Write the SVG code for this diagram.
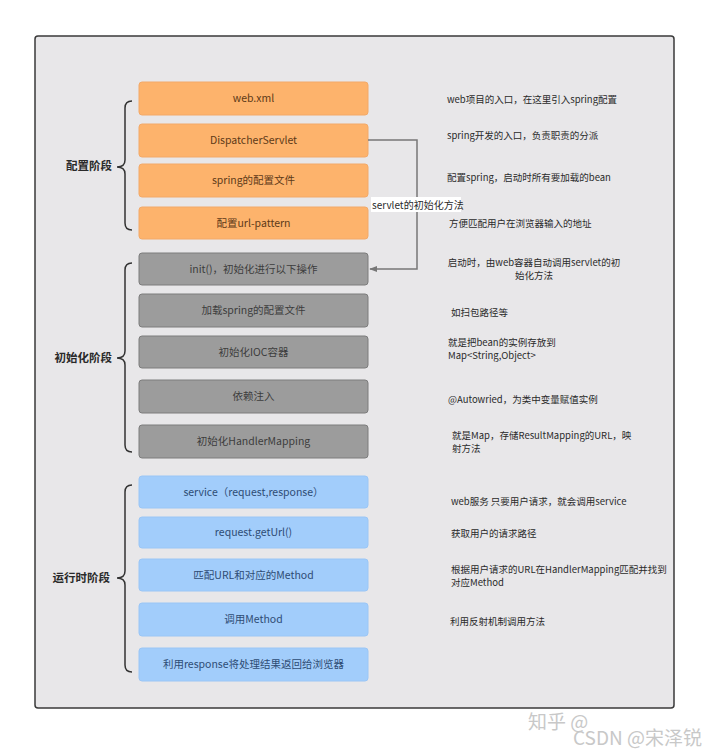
<svg xmlns="http://www.w3.org/2000/svg" width="720" height="754" viewBox="0 0 720 754">
<style>
text{font-family:"Noto Sans CJK SC","Liberation Sans",sans-serif;}
.frame{fill:#e8e7e9;stroke:#3a3a3a;stroke-width:1.5;}
.or{fill:#fdb36c;stroke:#f3a968;stroke-width:1;}
.gr{fill:#9c9c9c;stroke:#7c7c7c;stroke-width:1;}
.bl{fill:#a2cdfb;stroke:#9ac6f6;stroke-width:1;}
.to{font-size:10.5px;fill:#5e3a18;text-anchor:middle;}
.tg{font-size:10.5px;fill:#3c3c3c;text-anchor:middle;}
.tb{font-size:10.5px;fill:#2e4c74;text-anchor:middle;}
.note{font-size:9.5px;fill:#2a2a2a;}
.phase{font-size:11.5px;font-weight:bold;fill:#2a2a2a;text-anchor:end;}
.brace{fill:none;stroke:#333;stroke-width:1.5;}
.conn{fill:none;stroke:#777;stroke-width:1.5;}
.wm{font-size:19px;fill:#c8c8c8;}
</style>
<defs>
<marker id="arr" viewBox="0 0 10 10" refX="9" refY="5" markerWidth="8" markerHeight="8" markerUnits="userSpaceOnUse" orient="auto">
<path d="M0,1 L10,5 L0,9 Z" fill="#777"/>
</marker>
</defs>
<rect x="35" y="36" width="639" height="672" rx="3" class="frame"/>

<g id="phase-config">
<text x="112" y="170" class="phase">配置阶段</text>
<path class="brace" d="M132,101 Q125,101 125,108 L125,160 Q125,167 117,167 Q125,167 125,174 L125,223 Q125,230 132,230"/>
</g>
<g id="phase-init">
<text x="112" y="362" class="phase">初始化阶段</text>
<path class="brace" d="M132,263 Q125,263 125,270 L125,351 Q125,358 117,358 Q125,358 125,365 L125,445 Q125,452 132,452"/>
</g>
<g id="phase-run">
<text x="110" y="582" class="phase">运行时阶段</text>
<path class="brace" d="M132,485 Q125,485 125,492 L125,571 Q125,578 117,578 Q125,578 125,585 L125,665 Q125,672 132,672"/>
</g>

<g id="n-webxml"><rect x="139" y="82" width="229" height="33" rx="3" class="or"/><text x="253.5" y="102" class="to">web.xml</text></g>
<g id="n-dispatcher"><rect x="139" y="124" width="229" height="33" rx="3" class="or"/><text x="253.5" y="144" class="to">DispatcherServlet</text></g>
<g id="n-springcfg"><rect x="139" y="164" width="229" height="33" rx="3" class="or"/><text x="253.5" y="184" class="to">spring的配置文件</text></g>
<g id="n-urlpattern"><rect x="139" y="207" width="229" height="32" rx="3" class="or"/><text x="253.5" y="227" class="to">配置url-pattern</text></g>

<g id="n-init"><rect x="139" y="253" width="229" height="32" rx="3" class="gr"/><text x="253.5" y="273" class="tg">init()，初始化进行以下操作</text></g>
<g id="n-load"><rect x="139" y="294" width="229" height="33" rx="3" class="gr"/><text x="253.5" y="314" class="tg">加载spring的配置文件</text></g>
<g id="n-ioc"><rect x="139" y="336" width="229" height="32" rx="3" class="gr"/><text x="253.5" y="356" class="tg">初始化IOC容器</text></g>
<g id="n-di"><rect x="139" y="380" width="229" height="33" rx="3" class="gr"/><text x="253.5" y="400" class="tg">依赖注入</text></g>
<g id="n-hm"><rect x="139" y="425" width="229" height="33" rx="3" class="gr"/><text x="253.5" y="445" class="tg">初始化HandlerMapping</text></g>

<g id="n-service"><rect x="139" y="476" width="229" height="32" rx="3" class="bl"/><text x="253.5" y="496" class="tb">service（request,response）</text></g>
<g id="n-geturl"><rect x="139" y="517" width="229" height="31" rx="3" class="bl"/><text x="253.5" y="536" class="tb">request.getUrl()</text></g>
<g id="n-match"><rect x="139" y="559" width="229" height="32" rx="3" class="bl"/><text x="253.5" y="579" class="tb">匹配URL和对应的Method</text></g>
<g id="n-invoke"><rect x="139" y="603" width="229" height="33" rx="3" class="bl"/><text x="253.5" y="623" class="tb">调用Method</text></g>
<g id="n-return"><rect x="139" y="648" width="229" height="33" rx="3" class="bl"/><text x="253.5" y="668" class="tb">利用response将处理结果返回给浏览器</text></g>

<g id="connectors">
<path class="conn" d="M368,140 L417,140 L417,269 L370,269" marker-end="url(#arr)"/>
<rect x="371" y="197" width="90" height="15" fill="#ffffff"/>
<text x="372" y="209" font-size="10" fill="#2a2a2a">servlet的初始化方法</text>
</g>

<g id="notes">
<text x="447" y="103" class="note">web项目的入口，在这里引入spring配置</text>
<text x="447" y="139" class="note">spring开发的入口，负责职责的分派</text>
<text x="447" y="181" class="note">配置spring，启动时所有要加载的bean</text>
<text x="449" y="227" class="note">方便匹配用户在浏览器输入的地址</text>
<text x="534" y="266" class="note" text-anchor="middle">启动时，由web容器自动调用servlet的初</text>
<text x="534" y="279" class="note" text-anchor="middle">始化方法</text>
<text x="451" y="316" class="note">如扫包路径等</text>
<text x="448" y="346" class="note">就是把bean的实例存放到</text>
<text x="448" y="359" class="note">Map&lt;String,Object&gt;</text>
<text x="448" y="403" class="note">@Autowried，为类中变量赋值实例</text>
<text x="452" y="439" class="note">就是Map，存储ResultMapping的URL，映</text>
<text x="452" y="452" class="note">射方法</text>
<text x="451" y="505" class="note">web服务 只要用户请求，就会调用service</text>
<text x="451" y="537" class="note">获取用户的请求路径</text>
<text x="451" y="573" class="note">根据用户请求的URL在HandlerMapping匹配并找到</text>
<text x="451" y="586" class="note">对应Method</text>
<text x="450" y="625" class="note">利用反射机制调用方法</text>
</g>

<g id="watermark">
<text x="528" y="729" class="wm">知乎 @</text>
<text x="573" y="745" class="wm">CSDN @宋泽锐</text>
</g>
</svg>
